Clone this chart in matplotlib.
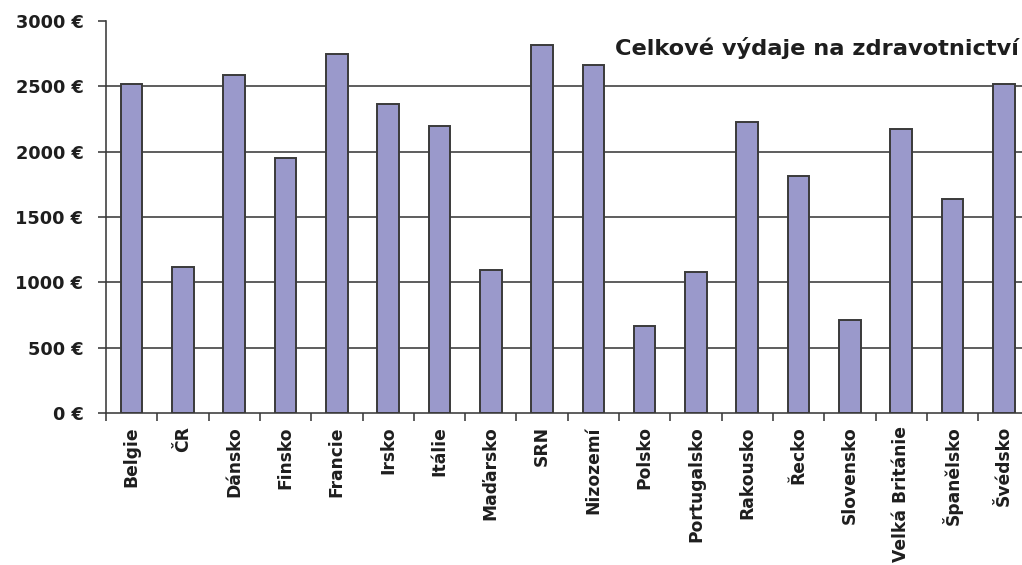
import matplotlib
matplotlib.use("Agg")
import matplotlib.pyplot as plt
import numpy as np

countries = ["Belgie", "ČR", "Dánsko", "Finsko", "Francie", "Irsko", "Itálie",
             "Maďarsko", "SRN", "Nizozemí", "Polsko", "Portugalsko", "Rakousko",
             "Řecko", "Slovensko", "Velká Británie", "Španělsko", "Švédsko"]
spending = [2520, 1115, 2590, 1950, 2745, 2365, 2195, 1095, 2815, 2660,
            665, 1080, 2225, 1810, 715, 2175, 1640, 2520]
y_ticks = [0, 500, 1000, 1500, 2000, 2500, 3000]
y_labels = [f"{v} €" for v in y_ticks]
title = "Celkové výdaje na zdravotnictví"

W, H = 1022, 565
line_col = "#3a3a3a"
text_col = "#1e1e1e"
bar_col = "#9a99cb"

plt.rcParams["font.family"] = ["DejaVu Sans"]
plt.rcParams["font.weight"] = "bold"

fig = plt.figure(figsize=(W / 100, H / 100), dpi=100)
left, bottom, top = 106 / W, (H - 413) / H, (H - 21) / H
ax = fig.add_axes([left, bottom, 18 * 51.3 / W, top - bottom])

x = np.arange(len(countries)) + 0.5
ax.bar(x, spending, width=0.42, color=bar_col, edgecolor=line_col,
       linewidth=1.4, zorder=3)

ax.set_xlim(0, len(countries))
ax.set_ylim(0, 3000)

for v in y_ticks[1:-1]:
    ax.axhline(v, color=line_col, linewidth=1.15, zorder=1)

for side in ("top", "right"):
    ax.spines[side].set_visible(False)
for side in ("left", "bottom"):
    ax.spines[side].set_color(line_col)
    ax.spines[side].set_linewidth(1.15)

ax.set_yticks(y_ticks)
ax.set_yticklabels(y_labels, fontsize=12.8, fontweight="bold", color=text_col)
ax.tick_params(axis="y", length=5.8, width=1.15, color=line_col, pad=10.5)

ax.set_xticks(x)
ax.set_xticklabels(countries, rotation=90, fontsize=12.3, fontweight="bold",
                   color=text_col, va="top", ha="center")
ax.set_xticks(np.arange(len(countries) + 1), minor=True)
ax.tick_params(axis="x", which="major", length=0, pad=9.5)
ax.tick_params(axis="x", which="minor", length=5.8, width=1.15, color=line_col)

fig.text(1019 / W, 1 - 48 / H, title, ha="right", va="center",
         fontsize=16.2, fontweight="bold", color=text_col)

fig.savefig("out.png", dpi=100, facecolor="white")
